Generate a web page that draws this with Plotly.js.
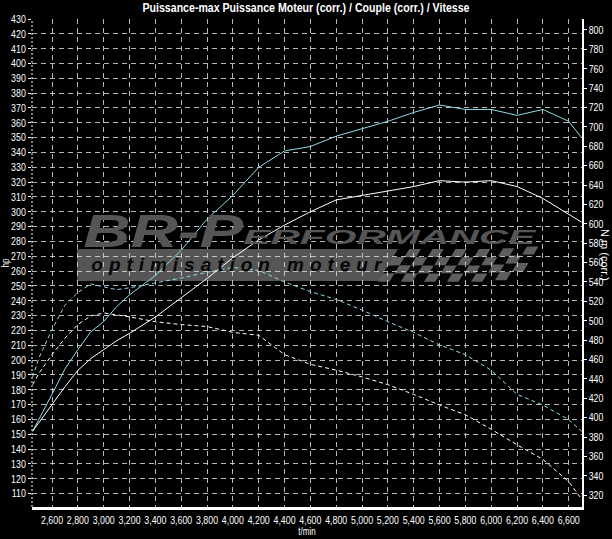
<!DOCTYPE html>
<html><head><meta charset="utf-8">
<script src="https://cdn.plot.ly/plotly-3.0.1.min.js"></script>
<style>html,body{margin:0;padding:0;background:#000;}#chart{width:612px;height:539px;}</style>
</head><body><div id="chart"></div>
<script>
// ---- data ----
const rpm = [2450,2500,2600,2700,2800,2900,3000,3100,3200,3400,3600,3800,4000,4200,4400,4600,4800,5000,5200,5400,5600,5800,6000,6200,6400,6600,6700];
const powerCorr = [152,160,177,194,207,219,226,236,244,257,274,295,311,330,341,344,351,356,361,367,372,369,369,365,369,361,350];
const powerRun  = [152,158,170,182,193,201,207,213,218,229,242,255,269,281,291,300,308,311,314,317,321,320,321,317,309,298,293];
const torqueCorr = [442,462,491,516,529,538,535,532,534,539,544,550,555,552,540,530,522,511,499,488,475,465,449,424,413,398,386];
const torqueRun  = [434,446,465,482,496,505,508,506,504,499,496,494,488,485,465,455,449,442,434,424,413,403,388,372,357,334,316];
const xTicks = [2600,2800,3000,3200,3400,3600,3800,4000,4200,4400,4600,4800,5000,5200,5400,5600,5800,6000,6200,6400,6600];
const titleText = 'Puissance-max Puissance Moteur (corr.) / Couple (corr.) / Vitesse';
const leftTitle = 'hp';
const rightTitle = 'N m (corr.)';
const xTitle = 't/min';
const logoBig = 'BR-P';
const logoSmall = 'ERFORMANCE';
const logoTag = 'optimisation moteur';

const W = 612, H = 539, ML = 32, MR = 30, MT = 19, MB = 32;
const PW = W - ML - MR, PH = H - MT - MB;
const px = x => (x - ML) / PW;
const py = y => (H - MB - y) / PH;

const FONT = '"Liberation Sans", Arial, sans-serif';
const CYAN = '#8fdcea';

const traces = [
  {x: rpm, y: powerCorr, type: 'scatter', mode: 'lines', line: {color: CYAN, width: 1}, yaxis: 'y'},
  {x: rpm, y: powerRun, type: 'scatter', mode: 'lines', line: {color: '#ffffff', width: 1}, yaxis: 'y'},
  {x: rpm, y: torqueCorr, type: 'scatter', mode: 'lines', line: {color: CYAN, width: 1, dash: '4px,3px'}, yaxis: 'y2'},
  {x: rpm, y: torqueRun, type: 'scatter', mode: 'lines', line: {color: '#ffffff', width: 1, dash: '4px,3px'}, yaxis: 'y2'}
];

// ---- watermark logo (decoration) ----
const shapes = [];
const annotations = [];
shapes.push({type: 'rect', xref: 'paper', yref: 'paper', x0: px(77), x1: px(420), y0: py(281), y1: py(249),
  fillcolor: '#555555', line: {width: 0}, layer: 'below'});
// checkered flag
const cw = 11.5, chh = 8.2, skew = 5;
for (let r = 0; r < 4; r++) {
  for (let c = 0; c < 12; c++) {
    const x0 = 398 + c * cw - r * skew + (c > 6 ? (c - 6) * 0.5 : 0);
    const y0 = 249 + r * chh - (c > 8 ? (c - 8) * 0.8 : 0);
    const dark = (r + c) % 2 === 0;
    const col = dark ? '#050505' : '#5e5e5e';
    const p = `M${px(x0)},${py(y0)} L${px(x0 + cw)},${py(y0)} L${px(x0 + cw - skew)},${py(y0 + chh)} L${px(x0 - skew)},${py(y0 + chh)} Z`;
    shapes.push({type: 'path', xref: 'paper', yref: 'paper', path: p, fillcolor: col, line: {width: 0}, layer: 'below'});
  }
}
// logo texts: [text, centre x px, centre y px, font size, colour, target length px, adjust]
const logoTexts = [
  [logoBig, 163, 231, 46, '#555555', 160, 'spacingAndGlyphs'],
  [logoSmall, 389, 236, 21, '#555555', 292, 'spacingAndGlyphs'],
  [logoTag, 237, 264, 19, '#060606', 290, 'spacing']
];
logoTexts.forEach(t => {
  annotations.push({xref: 'paper', yref: 'paper', x: px(t[1]), y: py(t[2]), text: '<b><i>' + t[0] + '</i></b>',
    showarrow: false, font: {family: FONT, size: t[3], color: t[4]}, xanchor: 'center', yanchor: 'middle'});
});
// left axis dotted line
shapes.push({type: 'line', xref: 'paper', yref: 'paper', x0: 0, x1: 0, y0: 0, y1: 1, line: {color: '#ffffff', width: 1, dash: '2px,2px'}});
// right axis title (reads top to bottom)
annotations.push({xref: 'paper', yref: 'paper', x: 1 + 23 / PW, y: py(255), text: rightTitle, textangle: 90,
  showarrow: false, font: {family: FONT, size: 11, color: '#ffffff'}, xanchor: 'center', yanchor: 'middle'});

const gridColor = 'rgba(215,215,215,0.85)';
const tf = {family: FONT, size: 11, color: '#ffffff'};
const layout = {
  width: W, height: H,
  paper_bgcolor: '#000000', plot_bgcolor: '#000000',
  margin: {l: ML, r: MR, t: MT, b: MB},
  showlegend: false,
  font: {family: FONT, color: '#ffffff', size: 11},
  title: {text: '<b>' + titleText + '</b>', x: 0.5, xanchor: 'center', y: 1 - 8 / H, yanchor: 'middle',
    font: {family: FONT, size: 12, color: '#ffffff'}},
  xaxis: {range: [2445, 6703], tickvals: xTicks, tickformat: ',d', tickangle: 0, showgrid: true, gridcolor: gridColor, griddash: '5px,4px', gridwidth: 1,
    showline: true, linecolor: '#ffffff', linewidth: 3, ticks: '', ticklabelstandoff: 1, zeroline: false,
    tickfont: tf,
    title: {text: xTitle, standoff: 0, font: {family: FONT, size: 10, color: '#ffffff'}}},
  yaxis: {range: [100.9, 430], dtick: 10, tick0: 0, showgrid: true, gridcolor: gridColor, griddash: '5px,4px', gridwidth: 1,
    showline: false, ticks: 'outside', ticklen: 3, tickcolor: '#ffffff', zeroline: false,
    tickfont: tf,
    title: {text: leftTitle, standoff: 5, font: {family: FONT, size: 10, color: '#ffffff'}}},
  yaxis2: {range: [307.8, 811.3], dtick: 20, tick0: 0, overlaying: 'y', side: 'right', showgrid: false, zeroline: false,
    showline: true, linecolor: '#ffffff', linewidth: 1.5, ticks: 'outside', ticklen: 3, tickcolor: '#ffffff',
    tickfont: tf},
  shapes: shapes,
  annotations: annotations
};

function squeeze(el, target, adjust) {
  const L = el.getComputedTextLength();
  if (!L) return;
  el.setAttribute('textLength', target == null ? L * 0.8 : target);
  el.setAttribute('lengthAdjust', adjust || 'spacingAndGlyphs');
}
Plotly.newPlot('chart', traces, layout, {displayModeBar: false, staticPlot: true}).then(gd => {
  gd.querySelectorAll('.xtick text, .ytick text, .y2tick text, .xtitle, .ytitle').forEach(t => squeeze(t));
  const gt = gd.querySelector('.gtitle');
  if (gt) squeeze(gt, 327);
  logoTexts.forEach((t, i) => {
    const a = gd.querySelector('.annotation[data-index="' + i + '"] text.annotation-text');
    if (a) squeeze(a, t[5], t[6]);
  });
});
</script>
</body></html>
